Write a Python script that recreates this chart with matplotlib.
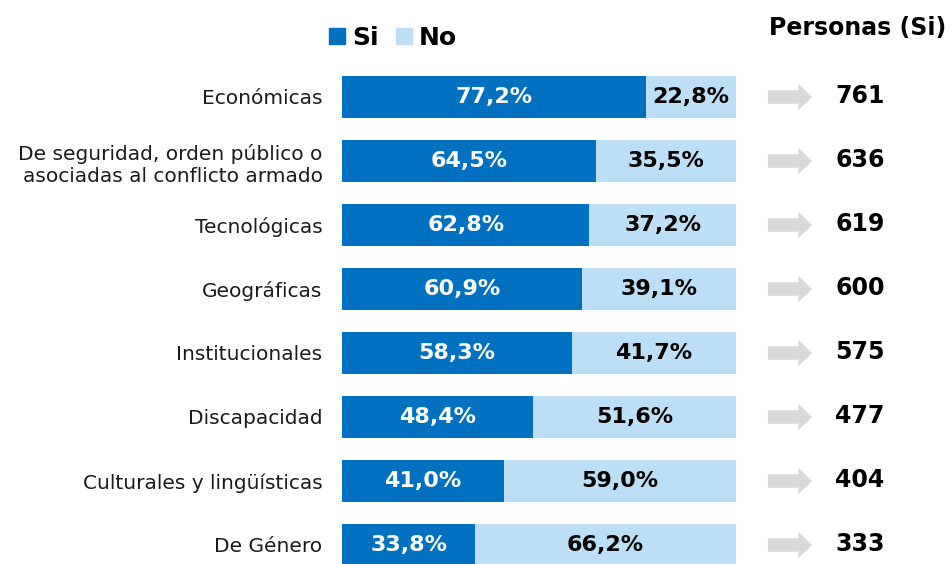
import matplotlib.pyplot as plt
from matplotlib.lines import Line2D

# Data
categorias = ['Económicas',
              'De seguridad, orden público o\nasociadas al conflicto armado',
              'Tecnológicas', 'Geográficas', 'Institucionales',
              'Discapacidad', 'Culturales y lingüísticas', 'De Género']
si_pct = [77.2, 64.5, 62.8, 60.9, 58.3, 48.4, 41.0, 33.8]
no_pct = [22.8, 35.5, 37.2, 39.1, 41.7, 51.6, 59.0, 66.2]
personas_si = [761, 636, 619, 600, 575, 477, 404, 333]

color_si = '#0070C0'
color_no = '#BDDFF5'
color_flecha = '#D9D9D9'


def fmt(v):
    return f"{v:.1f}".replace('.', ',') + '%'


fig = plt.figure(figsize=(9.52, 5.64), dpi=100)
ax = fig.add_axes([342 / 952, -13 / 564, 394 / 952, 512 / 564])

y = list(range(len(categorias)))
ax.barh(y, si_pct, height=0.67, color=color_si)
ax.barh(y, no_pct, left=si_pct, height=0.67, color=color_no)

for i in y:
    ax.text(si_pct[i] / 2, i, fmt(si_pct[i]), ha='center', va='center',
            color='white', fontsize=16, fontweight='bold')
    ax.text(si_pct[i] + no_pct[i] / 2, i, fmt(no_pct[i]), ha='center',
            va='center', color='black', fontsize=16, fontweight='bold')
    # arrow + count on the right
    ax.arrow(108.1, i, 11.2, 0, width=0.21, head_width=0.42, head_length=3.5,
             length_includes_head=True, color=color_flecha, clip_on=False,
             linewidth=0)
    ax.text(131.5, i - 0.02, str(personas_si[i]), ha='center', va='center',
            fontsize=17, fontweight='bold', clip_on=False)

ax.set_xlim(0, 100)
ax.set_ylim(7.5, -0.5)
ax.set_yticks(y)
ax.set_yticklabels(categorias, fontsize=14.5, color='#1a1a1a')
ax.tick_params(axis='y', length=0, pad=14)
ax.set_xticks([])
for s in ax.spines.values():
    s.set_visible(False)

fig.text(858 / 952, 1 - 28 / 564, 'Personas (Si)', ha='center', va='center',
         fontsize=17, fontweight='bold')

handles = [Line2D([], [], marker='s', linestyle='none', markersize=11,
                  color=color_si, label='Si'),
           Line2D([], [], marker='s', linestyle='none', markersize=11,
                  color=color_no, label='No')]
fig.legend(handles=handles, loc='center', bbox_to_anchor=(392 / 952, 1 - 38 / 564),
           ncol=2, frameon=False, handlelength=0.8, handletextpad=0.2,
           columnspacing=0.6, prop={'size': 18, 'weight': 'bold'})

plt.savefig('out.png', dpi=100)
